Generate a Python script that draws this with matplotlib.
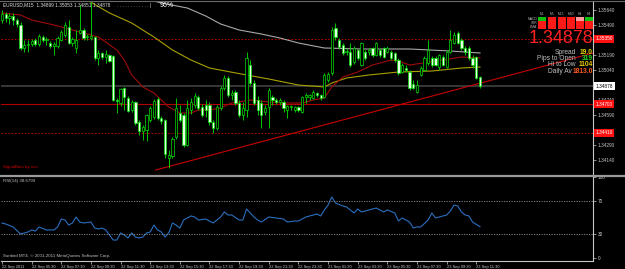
import matplotlib
matplotlib.use('Agg')
import matplotlib.pyplot as plt
import matplotlib.transforms as mtransforms
from matplotlib.patches import Rectangle
from matplotlib.lines import Line2D
import numpy as np

# ---------------- data (EURUSD M15, 22 Sep 03:30 .. 23 Sep 11:45) ----------------
opens = [1.3554, 1.3560, 1.3556, 1.3558, 1.3554, 1.3549, 1.3526, 1.3529, 1.3530, 1.3534,
         1.3530, 1.3537, 1.3534, 1.3531, 1.3528, 1.3528, 1.3534, 1.3539, 1.3547, 1.3531,
         1.3526, 1.3541, 1.3544, 1.3537, 1.3536, 1.3537, 1.3516, 1.3521, 1.3517, 1.3519,
         1.3518, 1.3474, 1.3471, 1.3486, 1.3476, 1.3464, 1.3472, 1.3452, 1.3443, 1.3444,
         1.3454, 1.3457, 1.3475, 1.3456, 1.3454, 1.3416, 1.3418, 1.3437, 1.3461, 1.3459,
         1.3429, 1.3464, 1.3469, 1.3477, 1.3467, 1.3469, 1.3469, 1.3452, 1.3446, 1.3466,
         1.3486, 1.3496, 1.3479, 1.3482, 1.3471, 1.3459, 1.3464, 1.3509, 1.3491, 1.3474,
         1.3471, 1.3462, 1.3467, 1.3477, 1.3474, 1.3472, 1.3472, 1.3464, 1.3467, 1.3464,
         1.3467, 1.3462, 1.3477, 1.3477, 1.3476, 1.3481, 1.3479, 1.3477, 1.3494, 1.3501,
         1.3546, 1.3534, 1.3529, 1.3522, 1.3522, 1.3512, 1.3524, 1.3509, 1.3522, 1.3522,
         1.3526, 1.3519, 1.3524, 1.3526, 1.3522, 1.3522, 1.3521, 1.3514, 1.3502, 1.3506,
         1.3502, 1.3490, 1.3482, 1.3499, 1.3504, 1.3511, 1.3516, 1.3516, 1.3507, 1.3517,
         1.3507, 1.3522, 1.3531, 1.3541, 1.3534, 1.3526, 1.3526, 1.3516, 1.3517, 1.3497]
closes = [1.3560, 1.3556, 1.3558, 1.3554, 1.3550, 1.3526, 1.3529, 1.3530, 1.3533, 1.3530,
          1.3538, 1.3534, 1.3535, 1.3528, 1.3530, 1.3536, 1.3542, 1.3549, 1.3531, 1.3535,
          1.3534, 1.3544, 1.3536, 1.3538, 1.3538, 1.3516, 1.3521, 1.3517, 1.3520, 1.3513,
          1.3474, 1.3473, 1.3485, 1.3477, 1.3463, 1.3472, 1.3451, 1.3443, 1.3447, 1.3459,
          1.3466, 1.3473, 1.3456, 1.3453, 1.3420, 1.3419, 1.3435, 1.3466, 1.3454, 1.3429,
          1.3466, 1.3472, 1.3478, 1.3466, 1.3459, 1.3464, 1.3452, 1.3446, 1.3467, 1.3486,
          1.3496, 1.3479, 1.3481, 1.3471, 1.3459, 1.3466, 1.3516, 1.3491, 1.3471, 1.3464,
          1.3459, 1.3466, 1.3484, 1.3474, 1.3472, 1.3474, 1.3466, 1.3468, 1.3468, 1.3467,
          1.3464, 1.3477, 1.3479, 1.3479, 1.3482, 1.3479, 1.3476, 1.3499, 1.3500, 1.3544,
          1.3537, 1.3527, 1.3521, 1.3523, 1.3509, 1.3526, 1.3516, 1.3531, 1.3516, 1.3524,
          1.3519, 1.3531, 1.3519, 1.3517, 1.3526, 1.3516, 1.3514, 1.3501, 1.3509, 1.3504,
          1.3486, 1.3486, 1.3489, 1.3506, 1.3516, 1.3524, 1.3509, 1.3509, 1.3519, 1.3509,
          1.3522, 1.3534, 1.3539, 1.3531, 1.3526, 1.3522, 1.3516, 1.3509, 1.3496, 1.34878]
highs = [1.3564, 1.3562, 1.3561, 1.3561, 1.3556, 1.3552, 1.3534, 1.3534, 1.3535, 1.3536,
         1.3540, 1.3539, 1.3537, 1.3533, 1.3532, 1.3538, 1.3544, 1.3552, 1.3554, 1.3537,
         1.3544, 1.3569, 1.3546, 1.3540, 1.3573, 1.3538, 1.3524, 1.3522, 1.3524, 1.3520,
         1.3519, 1.3476, 1.3486, 1.3487, 1.3478, 1.3474, 1.3473, 1.3454, 1.3449, 1.3460,
         1.3468, 1.3475, 1.3477, 1.3458, 1.3455, 1.3424, 1.3437, 1.3476, 1.3469, 1.3461,
         1.3474, 1.3476, 1.3481, 1.3479, 1.3470, 1.3474, 1.3472, 1.3454, 1.3469, 1.3488,
         1.3499, 1.3498, 1.3484, 1.3484, 1.3474, 1.3472, 1.3522, 1.3514, 1.3494, 1.3478,
         1.3474, 1.3469, 1.3486, 1.3479, 1.3476, 1.3476, 1.3474, 1.3469, 1.3469, 1.3468,
         1.3468, 1.3478, 1.3481, 1.3480, 1.3484, 1.3482, 1.3480, 1.3501, 1.3502, 1.3547,
         1.3551, 1.3536, 1.3531, 1.3526, 1.3531, 1.3528, 1.3525, 1.3532, 1.3524, 1.3526,
         1.3527, 1.3532, 1.3526, 1.3527, 1.3528, 1.3524, 1.3522, 1.3516, 1.3511, 1.3509,
         1.3504, 1.3494, 1.3494, 1.3508, 1.3518, 1.3534, 1.3518, 1.3518, 1.3520, 1.3519,
         1.3524, 1.3544, 1.3542, 1.3543, 1.3536, 1.3528, 1.3528, 1.3519, 1.3518, 1.3498]
lows = [1.3551, 1.3552, 1.3550, 1.3549, 1.3547, 1.3524, 1.3522, 1.3522, 1.3528, 1.3528,
        1.3528, 1.3532, 1.3529, 1.3526, 1.3519, 1.3526, 1.3533, 1.3537, 1.3530, 1.3528,
        1.3521, 1.3540, 1.3534, 1.3534, 1.3534, 1.3514, 1.3509, 1.3515, 1.3511, 1.3512,
        1.3473, 1.3461, 1.3468, 1.3464, 1.3462, 1.3462, 1.3449, 1.3439, 1.3434, 1.3433,
        1.3452, 1.3455, 1.3454, 1.3450, 1.3416, 1.3406, 1.3416, 1.3435, 1.3452, 1.3427,
        1.3428, 1.3460, 1.3466, 1.3464, 1.3457, 1.3457, 1.3449, 1.3441, 1.3444, 1.3464,
        1.3484, 1.3477, 1.3474, 1.3469, 1.3457, 1.3454, 1.3457, 1.3489, 1.3469, 1.3459,
        1.3446, 1.3459, 1.3446, 1.3469, 1.3470, 1.3469, 1.3462, 1.3456, 1.3464, 1.3462,
        1.3462, 1.3461, 1.3471, 1.3474, 1.3475, 1.3477, 1.3474, 1.3476, 1.3492, 1.3499,
        1.3534, 1.3525, 1.3519, 1.3519, 1.3507, 1.3510, 1.3514, 1.3508, 1.3514, 1.3519,
        1.3517, 1.3518, 1.3517, 1.3516, 1.3521, 1.3514, 1.3512, 1.3499, 1.3501, 1.3502,
        1.3484, 1.3485, 1.3481, 1.3498, 1.3503, 1.3509, 1.3507, 1.3508, 1.3504, 1.3508,
        1.3506, 1.3521, 1.3530, 1.3530, 1.3524, 1.3519, 1.3514, 1.3506, 1.3495, 1.3486]

# moving averages (bar index, value)
ma_grey_idx = [37, 43, 50, 55, 59, 64, 70, 75, 80, 87, 97, 110, 121, 129]
ma_grey_val = [1.3577, 1.3571, 1.3566, 1.3558, 1.3550, 1.3544, 1.3540, 1.3536, 1.3531,
               1.3526, 1.3525, 1.3525, 1.3523, 1.3521]
ma_olive_idx = [21, 23, 29, 35, 41, 46, 51, 56, 66, 72, 80, 87, 89, 93, 99, 107, 116, 124, 129]
ma_olive_val = [1.3577, 1.3574, 1.3561, 1.3551, 1.3537, 1.3524, 1.3514, 1.3506, 1.3499,
                1.3495, 1.3489, 1.3487, 1.3491, 1.3496, 1.3499, 1.3502, 1.3503, 1.3506, 1.3507]
ma_red_idx = [0, 5, 8, 14, 19, 22, 26, 28, 31, 33, 35, 38, 41, 43, 45, 48, 51, 53, 56, 59,
              62, 67, 72, 76, 81, 84, 87, 89, 92, 96, 100, 105, 107, 110, 119, 124, 129]
ma_red_val = [1.3561, 1.3559, 1.3554, 1.3549, 1.3544, 1.3541, 1.3537, 1.3532, 1.3524, 1.3514,
              1.3499, 1.3487, 1.3481, 1.3474, 1.3467, 1.3461, 1.3461, 1.3464, 1.3464, 1.3466,
              1.3471, 1.3474, 1.3472, 1.3471, 1.3471, 1.3474, 1.3476, 1.3487, 1.3497, 1.3502,
              1.3509, 1.3514, 1.3513, 1.3509, 1.3514, 1.3517, 1.3516]

# trend line and horizontal levels
trend_idx = [41.5, 159.5]
trend_val = [1.3404, 1.3521]
level_dash_top = 1.3535
level_solid = 1.3470
level_dash_low = 1.3441
bid_price = 1.34878

# RSI(14)
rsi_idx = [0, 1, 3, 5, 7, 8, 9, 10, 12, 14, 15, 16, 17, 18, 19, 20, 21, 22, 24, 25, 26, 27, 28,
           30, 31, 32, 33, 34, 35, 36, 37, 38, 39, 40, 41, 42, 43, 44, 45, 46, 47, 48, 49, 51,
           52, 53, 55, 56, 57, 59, 60, 61, 62, 64, 65, 66, 68, 69, 70, 72, 74, 76, 77, 79, 80,
           82, 85, 86, 87, 88, 89, 90, 92, 93, 95, 96, 97, 99, 101, 103, 104, 106, 107, 108,
           110, 111, 112, 113, 115, 116, 117, 118, 120, 121, 122, 123, 124, 125, 126, 127, 129]
rsi_val = [43.2, 42.0, 38.3, 29.6, 32.1, 34.6, 33.3, 38.3, 34.6, 34.6, 38.3, 48.1, 46.9, 40.7,
           43.2, 50.6, 44.4, 43.2, 44.4, 37.0, 35.8, 37.0, 34.6, 22.2, 22.2, 30.9, 28.4, 24.7,
           30.9, 25.9, 24.7, 25.9, 30.9, 32.1, 40.7, 34.6, 32.1, 25.9, 30.9, 43.2, 40.7, 37.0,
           46.9, 51.9, 50.6, 46.9, 48.1, 45.7, 43.2, 50.6, 56.8, 53.1, 53.1, 46.9, 46.9, 60.5,
           50.6, 46.9, 44.4, 50.6, 49.4, 48.1, 44.4, 45.7, 45.7, 50.6, 54.3, 51.9, 59.3, 65.4,
           75.3, 67.9, 64.2, 63.0, 55.6, 60.5, 56.8, 59.3, 61.7, 56.8, 59.3, 55.6, 45.7, 49.4,
           44.4, 37.0, 38.3, 38.3, 46.9, 55.6, 49.4, 50.6, 53.1, 58.0, 65.4, 64.2, 56.8, 53.1,
           51.9, 44.4, 38.68]

price_ticks = [1.3564, 1.3549, 1.3519, 1.3504, 1.3474, 1.3459, 1.3429, 1.3414]
rsi_ticks = [0, 30, 70, 100]
time_tick_idx = [0, 8, 16, 24, 32, 40, 48, 56, 64, 72, 80, 88, 96, 104, 112, 120, 128]
time_tick_labels = ['22 Sep 2011', '22 Sep 05:30', '22 Sep 07:30', '22 Sep 09:30', '22 Sep 11:30',
                    '22 Sep 13:30', '22 Sep 15:30', '22 Sep 17:30', '22 Sep 19:30', '22 Sep 21:30',
                    '22 Sep 23:30', '23 Sep 01:30', '23 Sep 03:30', '23 Sep 05:30', '23 Sep 07:30',
                    '23 Sep 09:30', '23 Sep 11:30']

# dashboard panel
tf_labels = ['M1', 'M5', 'M15', 'M30', 'H1', 'H4']
row_labels = ['MACD', 'STR', 'EMA']
row_states = [['up', 'dn', 'dn', 'dn', 'mid', 'up'],
              ['dn', 'dn', 'dn', 'dn', 'dn', 'dn'],
              ['dn', 'dn', 'dn', 'dn', 'dn', 'dn']]
info_labels = ['Spread', 'Pips to Open', 'Hi to Low', 'Daily Av']
info_values = ['19.0', '319', '1104', '1813.0']
info_colors = ['#e8d800', '#22dd22', '#e8c800', '#ff5a1e']

# ---------------- figure ----------------
W, H = 625, 269
plt.rcParams['font.family'] = ['Liberation Sans', 'DejaVu Sans']
fig = plt.figure(figsize=(W / 100, H / 100), dpi=100, facecolor='#000000')

def fx(px):
    return px / W

def fy(py):
    return 1 - py / H

AXC = '#c8c8c8'
X0, X1 = -0.27, 159.5

# main price window
ax = fig.add_axes([fx(1), fy(175), (593 - 1) / W, (175 - 2) / H], facecolor='#000000')
o = np.array(opens); c = np.array(closes); hi = np.array(highs); lo = np.array(lows)
x = np.arange(len(c))
bull = c >= o
ax.vlines(x, lo, hi, color='#00c800', lw=0.7, zorder=3)
body_h = np.maximum(np.abs(c - o), 0.00003)
ax.bar(x, body_h, bottom=np.minimum(o, c), width=0.6,
       color=np.where(bull, '#000000', '#e4ffe4'), edgecolor='#00e000', linewidth=0.5, zorder=4)

ax.plot(ma_grey_idx, ma_grey_val, color='#a8a8a8', lw=0.8, zorder=2)
ax.plot(ma_olive_idx, ma_olive_val, color='#a8a000', lw=0.8, zorder=2)
ax.plot(ma_red_idx, ma_red_val, color='#a00a0a', lw=0.8, zorder=2)
ax.plot(trend_idx, trend_val, color='#c80000', lw=0.8, zorder=2)

ax.axhline(level_dash_top, color='#d00000', lw=0.6, ls=(0, (2, 2)), zorder=1)
ax.axhline(level_dash_low, color='#d00000', lw=0.6, ls=(0, (2, 2)), zorder=1)
ax.axhline(level_solid, color='#b00000', lw=0.8, zorder=1)
ax.axhline(bid_price, color='#3c3c3c', lw=1.3, zorder=1)

ax.set_xlim(X0, X1)
ax.set_ylim(1.3399, 1.3572)
ax.yaxis.tick_right()
ax.set_yticks(price_ticks)
ax.set_yticklabels(['%.5f' % v for v in price_ticks])
ax.tick_params(axis='y', colors=AXC, labelsize=3.4, length=2, width=0.5, pad=1.5)
ax.set_xticks([])
for s in ['left', 'top', 'bottom']:
    ax.spines[s].set_visible(False)
ax.spines['right'].set_color(AXC)
ax.spines['right'].set_linewidth(0.8)

tr = mtransforms.blended_transform_factory(ax.transAxes, ax.transData)
for val, fc, tc in [(level_dash_top, '#ff1010', '#ffffff'), (level_solid, '#ff1010', '#ffffff'),
                    (level_dash_low, '#ff1010', '#ffffff'), (bid_price, '#ffffff', '#000000')]:
    ax.text(1.004, val, '%.5f' % val, transform=tr, fontsize=3.4, color=tc, va='center', ha='left',
            clip_on=False, zorder=10,
            bbox=dict(boxstyle='square,pad=0.35', fc=fc, ec='none'))

# RSI window
ax2 = fig.add_axes([fx(1), fy(261), (593 - 1) / W, (261 - 177) / H], facecolor='#000000')
ax2.plot(rsi_idx, rsi_val, color='#2a6fc0', lw=0.8)
ax2.axhline(70, color='#909090', lw=0.6, ls=(0, (1.5, 1.5)))
ax2.axhline(30, color='#909090', lw=0.6, ls=(0, (1.5, 1.5)))
ax2.set_xlim(X0, X1)
ax2.set_ylim(-3.7, 100)
ax2.yaxis.tick_right()
ax2.set_yticks(rsi_ticks)
ax2.set_yticklabels([str(v) for v in rsi_ticks])
ax2.tick_params(axis='y', colors=AXC, labelsize=3.4, length=2, width=0.5, pad=1.5)
ax2.set_xticks(time_tick_idx)
ax2.set_xticklabels(time_tick_labels, ha='left')
ax2.tick_params(axis='x', colors=AXC, labelsize=2.9, length=2, width=0.5, pad=0.8)
for s in ['left', 'top']:
    ax2.spines[s].set_visible(False)
for s in ['right', 'bottom']:
    ax2.spines[s].set_color(AXC)
    ax2.spines[s].set_linewidth(0.8)

# window separators / borders
fig.add_artist(Line2D([fx(0), fx(625)], [fy(176), fy(176)], color='#9a9a9a', lw=1.6))
fig.add_artist(Line2D([fx(0), fx(625)], [fy(0.6), fy(0.6)], color='#6a6a6a', lw=0.8))

# texts
fig.text(fx(3), fy(4.5), 'EURUSD,M15  1.34899 1.35053 1.34851 1.34878', fontsize=3.4,
         color='#e0e0e0', va='center', ha='left')
fig.text(fx(117), fy(5.5), ". . . . . . . . . . . . |", fontsize=3.4, color='#d0d0d0',
         va='center', ha='left')
fig.text(fx(160), fy(5.5), '96%', fontsize=5, color='#ffffff', va='center', ha='left')
fig.text(fx(3), fy(167), 'SignalBars by xxx', fontsize=3.2, color='#d00000', va='center', ha='left')
fig.text(fx(3), fy(181), 'RSI(14) 38.6799', fontsize=3.2, color='#c0c0c0', va='center', ha='left')
fig.text(fx(3), fy(256), 'Sunbird MT4, \u00a9 2001-2011 MetaQuotes Software Corp.', fontsize=3.2,
         color='#c0c0c0', va='center', ha='left')

# dashboard grid
col_x = [538, 548, 557.5, 566.5, 576, 585]
row_y = [17.5, 21.5, 25.5]
state_col = {'up': '#10c010', 'dn': '#ff1a1a', 'mid': '#ff9a9a'}
for j, lab in enumerate(tf_labels):
    fig.text(fx(col_x[j] + 4), fy(14), lab, fontsize=2.4, color='#b0b0b0', va='center', ha='center')
for i, lab in enumerate(row_labels):
    fig.text(fx(537), fy(row_y[i] + 1.5), lab, fontsize=2.4, color='#b0b0b0', va='center', ha='right')
    for j, st in enumerate(row_states[i]):
        fig.add_artist(Rectangle((fx(col_x[j]), fy(row_y[i] + 3)), 8 / W, 3 / H,
                                 transform=fig.transFigure, fc=state_col[st], ec='none'))

fig.text(fx(593), fy(38.5), '1.34878', fontsize=13, color='#ff2020', va='center', ha='right')
info_y = [52.5, 58.5, 65, 71.5]
info_label_x = [576, 576, 576, 571.5]
for lab, val, col, yy, lx in zip(info_labels, info_values, info_colors, info_y, info_label_x):
    fig.text(fx(lx), fy(yy), lab, fontsize=4.8, color='#c0c0c0', va='center', ha='right')
    fig.text(fx(593), fy(yy), val, fontsize=4.8, color=col, va='center', ha='right', fontweight='bold')

fig.savefig('out.png', dpi=100, facecolor=fig.get_facecolor())
